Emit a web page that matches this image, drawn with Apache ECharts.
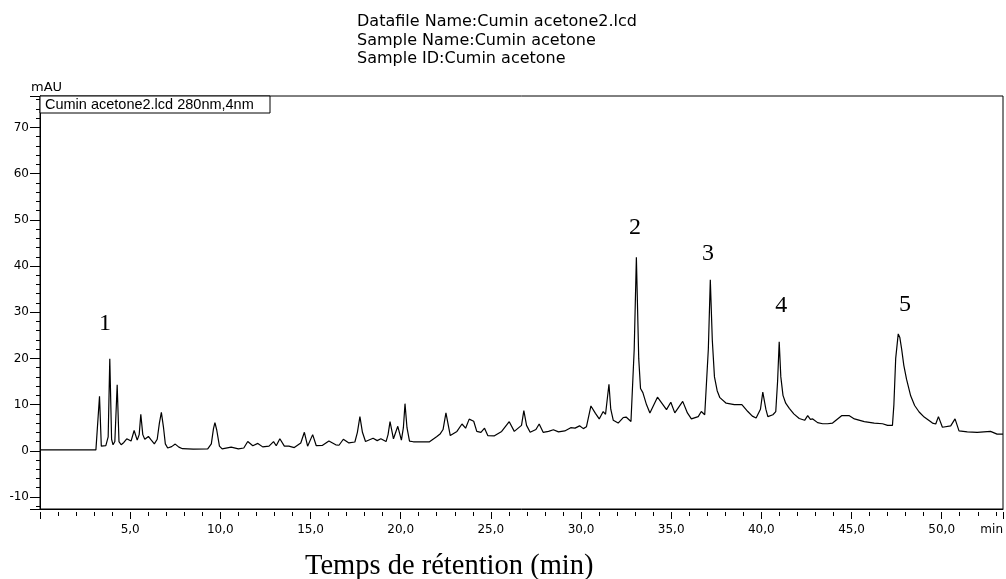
<!DOCTYPE html>
<html style="height: 100%">
<head>
  <meta charset="UTF-8">
  <title>Cumin acetone</title>
  <script src="https://cdn.jsdelivr.net/npm/echarts@6/dist/echarts.min.js"></script>
  <style>
    html, body {
      margin: 0;
      height: 100%;
      width: 100%;
      background: #fff;
    }
    #chart {
      width: 1006px;
      height: 579px;
    }
  </style>
</head>
<body>
  <div id="chart"></div>

  <script>
    // chromatogram (min, mAU)
    const retentionTime = [
      0, 3.1, 3.2, 3.3, 3.4, 3.5, 3.65, 3.78, 3.87, 3.97, 4.05, 4.15, 4.28, 4.38, 4.5,
      4.65, 4.81, 5.05, 5.22, 5.39, 5.5, 5.59, 5.7, 5.81, 6.01, 6.15, 6.34, 6.5, 6.62,
      6.73, 6.85, 6.95, 7.08, 7.3, 7.5, 7.7, 7.9, 8.5, 9.3, 9.5, 9.62, 9.7, 9.8, 9.95,
      10.1, 10.6, 11.0, 11.3, 11.52, 11.8, 12.08, 12.35, 12.7, 12.95, 13.1, 13.3, 13.55,
      13.8, 14.1, 14.46, 14.66, 14.84, 15.12, 15.32, 15.65, 16.02, 16.4, 16.58, 16.82,
      17.13, 17.46, 17.6, 17.74, 17.88, 18.05, 18.47, 18.7, 18.9, 19.19, 19.3, 19.41,
      19.6, 19.84, 20.04, 20.15, 20.24, 20.35, 20.49, 20.7, 21.6, 22.01, 22.2, 22.35,
      22.51, 22.75, 22.85, 23.12, 23.4, 23.6, 23.8, 24.05, 24.22, 24.45, 24.65, 24.83,
      25.2, 25.6, 26.02, 26.3, 26.7, 26.83, 26.98, 27.18, 27.5, 27.68, 27.9, 28.2,
      28.47, 28.75, 29.1, 29.43, 29.67, 29.92, 30.13, 30.3, 30.55, 30.8, 31.01, 31.23,
      31.36, 31.45, 31.55, 31.65, 31.79, 32.06, 32.34, 32.5, 32.77, 32.84, 32.95, 33.07,
      33.2, 33.3, 33.43, 33.63, 33.82, 34.24, 34.5, 34.74, 34.98, 35.2, 35.64, 35.9,
      36.12, 36.5, 36.67, 36.86, 36.95, 37.06, 37.17, 37.28, 37.4, 37.55, 37.7, 37.8,
      38.05, 38.5, 38.92, 39.0, 39.25, 39.5, 39.71, 39.95, 40.08, 40.25, 40.36, 40.64,
      40.8, 40.9, 40.99, 41.08, 41.2, 41.35, 41.55, 41.8, 42.1, 42.4, 42.57, 42.72, 42.85,
      43.12, 43.4, 43.67, 43.95, 44.45, 44.88, 45.16, 45.71, 46.26, 46.72, 47.0, 47.27,
      47.35, 47.45, 47.59, 47.68, 47.78, 47.9, 48.05, 48.28, 48.5, 48.75, 49.03, 49.49, 49.67,
      49.82, 50.04, 50.5, 50.74, 50.96, 51.42, 51.97, 52.71, 53.07, 53.4
    ];
    const signal = [
      0.2, 0.2, 0.5, 11.8, 1.0, 0.8, 1.1, 3.0, 19.9, 2.5, 1.3, 2.0, 14.3, 2.0, 1.3,
      1.8, 2.6, 2.1, 4.4, 2.3, 3.5, 7.9, 3.5, 2.5, 3.1, 2.4, 1.5, 2.5, 6.0,
      8.3, 5.0, 1.5, 0.6, 0.9, 1.45, 0.8, 0.45, 0.35, 0.4, 1.5, 4.8, 6.1, 4.5, 1.0,
      0.4, 0.8, 0.4, 0.6, 2.0, 1.1, 1.6, 0.85, 1.0, 2.0, 1.1, 2.6, 1.0,
      1.0, 0.7, 1.7, 4.0, 1.0, 3.5, 1.1, 1.15, 2.1, 1.3, 1.2, 2.5,
      1.7, 1.9, 4.0, 7.4, 4.0, 2.0, 2.7, 2.2, 2.6, 2.0, 3.5, 6.3,
      2.6, 5.3, 2.3, 5.0, 10.2, 5.0, 2.1, 1.95, 1.95, 3.1, 3.7, 4.6,
      8.2, 3.3, 2.9, 4.2, 5.8, 4.9, 6.85, 6.4, 4.2, 4.0, 4.9, 3.3,
      3.25, 4.2, 6.3, 4.2, 5.5, 8.7, 5.5, 4.0, 4.6, 5.8, 4.0, 4.2,
      4.55, 4.1, 4.3, 5.0, 4.9, 5.4, 4.8, 5.2, 9.7, 8.1, 6.9, 8.5,
      7.9, 11.0, 14.4, 9.0, 6.6, 6.0, 7.2, 7.3, 6.35, 6.3, 22.0, 41.9,
      20.0, 13.5, 12.6, 10.0, 8.2, 11.6, 10.2, 8.9, 10.5, 8.2, 10.7, 8.2,
      6.9, 7.4, 8.5, 7.8, 8.2, 22.0, 37.0, 24.0, 16.0, 13.0, 11.5, 11.4,
      10.3, 10.0, 10.0, 10.2, 8.5, 7.5, 7.1, 9.0, 12.7, 9.0, 7.4, 7.8,
      8.5, 15.0, 23.6, 16.0, 12.0, 10.3, 9.2, 8.0, 7.0, 6.6, 7.6, 6.8, 6.9,
      6.1, 5.85, 5.85, 6.0, 7.6, 7.6, 6.9, 6.3, 6.0, 5.85, 5.5, 5.5,
      10.0, 20.0, 25.3, 24.5, 22.0, 18.5, 15.5, 11.9, 9.8, 8.4, 7.3, 6.0, 5.8,
      7.4, 5.1, 5.4, 6.9, 4.3, 4.1, 4.0, 4.2, 3.6, 3.6
    ];

    // peak numbers and where they sit (min, mAU)
    const peakNames = ['1', '2', '3', '4', '5'];
    const peakLabelTime = [3.61, 33.0, 37.04, 41.11, 47.97];
    const peakLabelLevel = [27.5, 48.2, 42.6, 31.4, 31.7];

    const xMin = 0, xMax = 53.4;
    const yMin = -12.6, yMax = 76.8;

    const titleLines = [
      'Datafile Name:Cumin acetone2.lcd',
      'Sample Name:Cumin acetone',
      'Sample ID:Cumin acetone'
    ];
    const traceName = 'Cumin acetone2.lcd 280nm,4nm';

    const sans = 'DejaVu Sans, sans-serif';
    const serif = 'Liberation Serif, serif';

    const chart = echarts.init(document.getElementById('chart'));
    chart.setOption({
      animation: false,
      title: {
        text: titleLines.join('\n'),
        left: 357,
        top: 13,
        padding: 0,
        textStyle: {
          fontFamily: sans,
          fontSize: 16,
          fontWeight: 'normal',
          lineHeight: 18.5,
          color: '#000'
        }
      },
      legend: {
        data: [traceName],
        left: 40,
        top: 96,
        padding: [1, 3, 1, 0],
        itemWidth: 0,
        itemHeight: 0,
        icon: 'rect',
        selectedMode: false,
        borderColor: '#000',
        borderWidth: 1,
        borderRadius: 0,
        backgroundColor: '#fff',
        textStyle: {
          fontFamily: 'Liberation Sans, Arial, sans-serif',
          fontSize: 14.5,
          lineHeight: 14,
          width: 222,
          color: '#000'
        }
      },
      grid: {
        left: 40,
        right: 1,
        top: 96,
        bottom: 70,
        show: true,
        borderColor: '#000',
        borderWidth: 1,
        backgroundColor: 'transparent'
      },
      xAxis: [
        {
          type: 'value',
          min: xMin,
          max: xMax,
          interval: 5,
          axisLine: { onZero: false, lineStyle: { color: '#000', width: 1 } },
          axisTick: { show: false },
          axisLabel: { show: false },
          splitLine: { show: false }
        },
        {
          type: 'value',
          min: xMin,
          max: xMax,
          interval: 5,
          position: 'bottom',
          offset: 3,
          axisLine: { show: false, onZero: false },
          axisTick: { show: true, length: 7, lineStyle: { color: '#000' } },
          minorTick: { show: true, splitNumber: 5, length: 4, lineStyle: { color: '#000' } },
          axisLabel: {
            margin: 12,
            color: '#000',
            fontFamily: sans,
            fontSize: 12,
            showMinLabel: false,
            showMaxLabel: true,
            alignMaxLabel: 'right',
            formatter: v => v >= xMax - 1e-6 ? 'min' : v.toFixed(1).replace('.', ',')
          },
          splitLine: { show: false }
        }
      ],
      yAxis: {
        type: 'value',
        min: yMin,
        max: yMax,
        splitNumber: 9,
        axisLine: { onZero: false, lineStyle: { color: '#000', width: 1 } },
        axisTick: { show: true, length: 10, lineStyle: { color: '#000' } },
        minorTick: { show: true, splitNumber: 5, length: 4, lineStyle: { color: '#000' } },
        axisLabel: {
          margin: 11,
          color: '#000',
          fontFamily: sans,
          fontSize: 12,
          showMinLabel: false,
          showMaxLabel: false
        },
        splitLine: { show: false }
      },
      graphic: [
        {
          type: 'text',
          left: 31,
          top: 81,
          style: { text: 'mAU', font: '13px DejaVu Sans', fill: '#000' }
        },
        {
          type: 'text',
          left: 305,
          top: 552,
          style: { text: 'Temps de rétention (min)', font: '28.5px Liberation Serif', fill: '#000' }
        }
      ],
      series: [{
        name: traceName,
        type: 'line',
        xAxisIndex: 0,
        showSymbol: false,
        symbol: 'none',
        lineStyle: { color: '#000', width: 1.2 },
        itemStyle: { color: '#000' },
        data: retentionTime.map((t, i) => [t, signal[i]]),
        markPoint: {
          symbol: 'circle',
          symbolSize: 0,
          label: {
            show: true,
            position: 'inside',
            formatter: '{b}',
            color: '#000',
            fontFamily: serif,
            fontSize: 24
          },
          data: peakNames.map((n, i) => ({ name: n, coord: [peakLabelTime[i], peakLabelLevel[i]] }))
        }
      }]
    });
  </script>
</body>
</html>
